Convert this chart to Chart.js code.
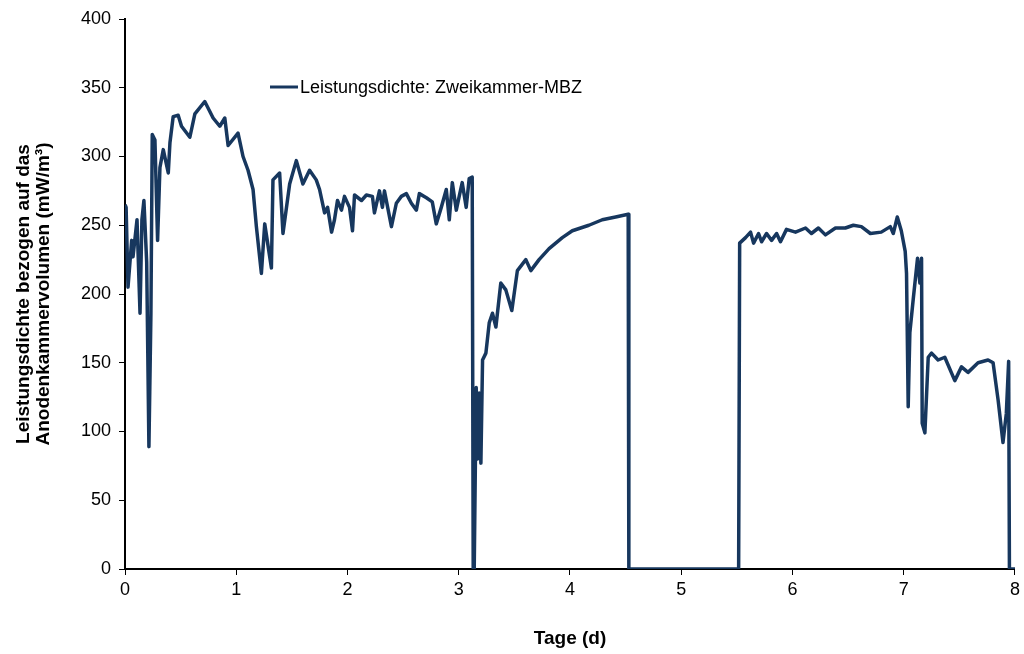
<!DOCTYPE html>
<html>
<head>
<meta charset="utf-8">
<script src="https://cdn.jsdelivr.net/npm/chart.js@4.4.0/dist/chart.umd.min.js"></script>
<style>
  html, body { margin: 0; padding: 0; background: #fff; }
  #wrap { width: 1024px; height: 654px; }
</style>
</head>
<body>
<div id="wrap"><canvas id="myCanvas" width="1024" height="654"></canvas></div>
<script>
// Tage (d)
const tage = [
  0.000, 0.010, 0.027, 0.060, 0.072, 0.108, 0.135, 0.152, 0.170, 0.195,
  0.215, 0.233, 0.245, 0.269, 0.293, 0.314, 0.344, 0.389, 0.404, 0.433,
  0.478, 0.508, 0.583, 0.628, 0.717, 0.792, 0.852, 0.897, 0.927, 1.016,
  1.061, 1.106, 1.151, 1.181, 1.226, 1.256, 1.316, 1.330, 1.390, 1.420,
  1.480, 1.540, 1.599, 1.659, 1.719,
  1.749, 1.794, 1.821, 1.857, 1.883, 1.910, 1.946, 1.973, 2.018, 2.045,
  2.063, 2.126, 2.170, 2.224, 2.242, 2.287, 2.314, 2.332, 2.395, 2.439,
  2.484, 2.529, 2.574, 2.619, 2.646, 2.709, 2.762, 2.798, 2.843, 2.888,
  2.915, 2.942, 2.978, 3.004, 3.031, 3.067, 3.094, 3.121,
  3.130, 3.139, 3.157, 3.169, 3.184, 3.199, 3.214, 3.244, 3.274, 3.303,
  3.334, 3.378, 3.423, 3.477, 3.527, 3.603, 3.648, 3.722, 3.812, 3.931,
  4.021, 4.170, 4.290, 4.410, 4.523, 4.529, 5.516,
  5.525, 5.578, 5.623, 5.650, 5.695, 5.722, 5.767, 5.812, 5.857, 5.892,
  5.946, 6.027, 6.117, 6.170, 6.233, 6.296, 6.386, 6.475, 6.547, 6.619,
  6.700, 6.798, 6.879, 6.906, 6.942, 6.978, 7.013, 7.025,
  7.040, 7.055, 7.085, 7.124, 7.145, 7.160, 7.166, 7.190, 7.220, 7.250,
  7.309, 7.369, 7.459, 7.519, 7.578, 7.668, 7.758, 7.803, 7.848, 7.892,
  7.922, 7.943, 7.950, 8.000
];

// Leistungsdichte (mW/m3)
const leistung = [
  265, 263, 205, 239, 227, 254, 186, 254, 268, 223,
  89, 186, 316, 312, 239, 292, 305, 288, 310, 329,
  330, 322, 314, 331, 340, 328, 322, 328, 308, 317,
  300, 290, 276, 249, 215, 251, 219, 283, 288, 244,
  280, 297, 280, 290, 283,
  276, 259, 263, 245, 254, 268, 261, 271, 263, 246,
  272, 268, 272, 271, 259, 275, 263, 275, 249, 266,
  271, 273, 266, 261, 273, 270, 267, 251, 263, 276,
  254, 281, 261, 271, 281, 263, 284, 285,
  0, 0, 132, 80, 128, 77, 152, 157, 179, 186,
  176, 208, 203, 188, 217, 225, 217, 225, 233, 241,
  246, 250, 254, 256, 258, 0, 0,
  237, 241, 245, 237, 244, 238, 244, 239, 244, 238,
  247, 245, 248, 244, 248, 243, 248, 248, 250, 249,
  244, 245, 249, 244, 256, 246, 231, 215,
  118, 172, 196, 226, 208, 226, 106, 99, 154, 157,
  152, 154, 137, 147, 143, 150, 152, 150, 123, 92,
  113, 151, 0, 0
];

const xTicks = [0, 1, 2, 3, 4, 5, 6, 7, 8];
const yTicks = [0, 50, 100, 150, 200, 250, 300, 350, 400];
const serieName = "Leistungsdichte: Zweikammer-MBZ";

let punkte = tage.map((t, i) => ({ x: t, y: leistung[i] }));

// legend drawn inside the plot like in the original
const legendPlugin = {
  id: "innerLegend",
  afterDraw(chart) {
    const c = chart.ctx;
    const ds = chart.data.datasets[0];
    c.save();
    c.strokeStyle = ds.borderColor;
    c.lineWidth = 3;
    c.beginPath();
    c.moveTo(270, 87);
    c.lineTo(298, 87);
    c.stroke();
    c.fillStyle = "#000";
    c.font = "18px 'Liberation Sans', Arial, sans-serif";
    c.textBaseline = "middle";
    c.fillText(ds.label, 300, 88);
    c.restore();
  }
};

const ctx = document.getElementById("myCanvas");
new Chart(ctx, {
  type: "scatter",
  data: {
    datasets: [{
      label: serieName,
      data: punkte,
      showLine: true,
      borderColor: "#17375E",
      borderWidth: 3.5,
      borderJoinStyle: "round",
      pointRadius: 0,
      tension: 0
    }]
  },
  options: {
    responsive: false,
    animation: false,
    layout: { padding: { top: 19, right: 7, left: 0, bottom: 0 } },
    plugins: {
      legend: { display: false },
      tooltip: { enabled: false }
    },
    scales: {
      x: {
        type: "linear",
        min: 0, max: 8,
        afterBuildTicks: (s) => { s.ticks = xTicks.map(v => ({ value: v })); },
        afterFit: (s) => { s.height = 85; },
        border: { color: "#000", width: 2 },
        grid: { drawOnChartArea: false, drawTicks: true, tickLength: 6, color: "#000", lineWidth: 1 },
        ticks: {
          color: "#000",
          padding: 4,
          font: { family: "'Liberation Sans', Arial, sans-serif", size: 18 }
        },
        title: {
          display: true,
          text: "Tage (d)",
          color: "#000",
          padding: { top: 18 },
          font: { family: "'Liberation Sans', Arial, sans-serif", size: 19, weight: "bold" }
        }
      },
      y: {
        min: 0, max: 400,
        afterBuildTicks: (s) => { s.ticks = yTicks.map(v => ({ value: v })); },
        afterFit: (s) => { s.width = 125; },
        border: { color: "#000", width: 2 },
        grid: { drawOnChartArea: false, drawTicks: true, tickLength: 6, color: "#000", lineWidth: 1 },
        ticks: {
          color: "#000",
          padding: 8,
          font: { family: "'Liberation Sans', Arial, sans-serif", size: 18 }
        },
        title: {
          display: true,
          text: ["Leistungsdichte bezogen auf das", "Anodenkammervolumen (mW/m³)"],
          color: "#000",
          padding: { top: 14, bottom: 0 },
          font: { family: "'Liberation Sans', Arial, sans-serif", size: 19, weight: "bold", lineHeight: 1.05 }
        }
      }
    }
  },
  plugins: [legendPlugin]
});
</script>
</body>
</html>
